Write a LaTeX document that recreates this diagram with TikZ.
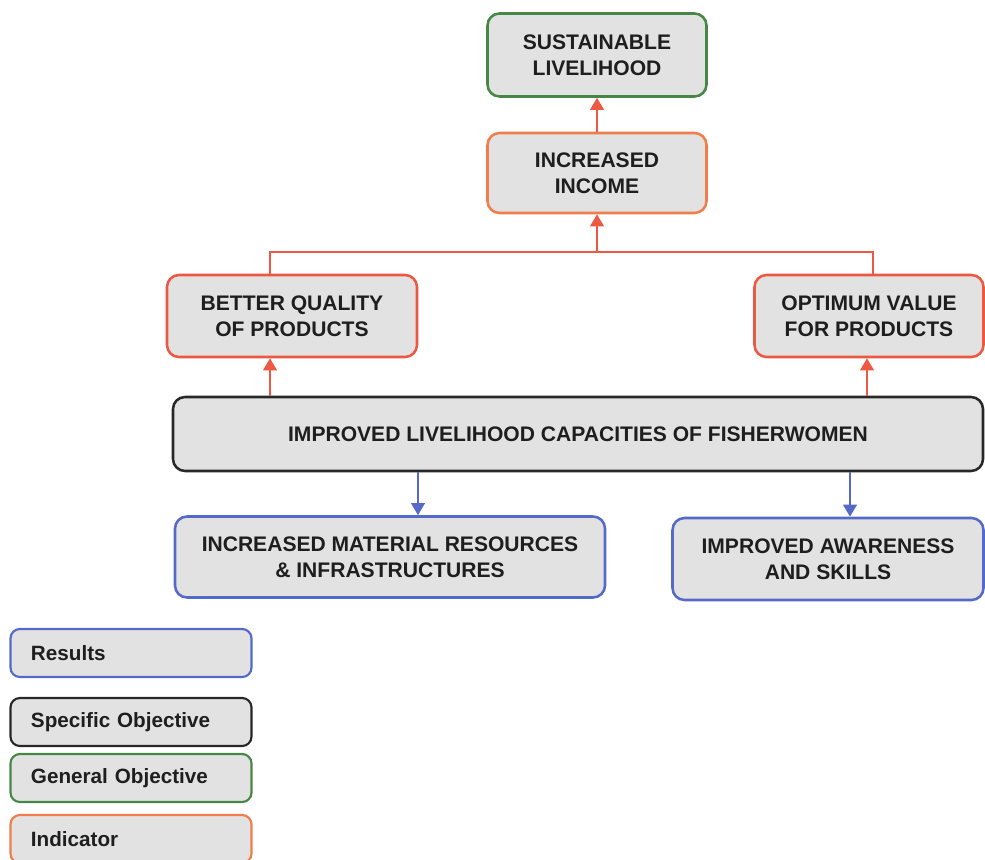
\documentclass[tikz,border=0pt]{standalone}
\usepackage{fontspec}
\setmainfont{Liberation Sans}
\usetikzlibrary{arrows.meta}
\definecolor{boxfill}{RGB}{226,226,226}
\definecolor{cgreen}{RGB}{70,135,70}
\definecolor{corange}{RGB}{240,125,75}
\definecolor{cred}{RGB}{236,88,66}
\definecolor{cblue}{RGB}{85,105,200}
\definecolor{cblack}{RGB}{40,40,40}
\definecolor{ctext}{RGB}{30,30,30}
\tikzset{
  box/.style={draw, fill=boxfill, rounded corners=9pt, line width=1.9pt, align=center,
    text=ctext, font=\fontsize{15.8}{19.5}\selectfont\bfseries, inner sep=0pt},
  legbox/.style={draw, fill=boxfill, rounded corners=7pt, line width=1.6pt,
    text=ctext, font=\fontsize{15.5}{18}\selectfont\bfseries, inner sep=0pt,
    minimum width=241*0.75pt, minimum height=48*0.75pt, text width=200*0.75pt, align=left},
  redarr/.style={draw=cred, line width=2pt, -{Triangle[length=9pt,width=10pt]}},
  redline/.style={draw=cred, line width=1.8pt},
  bluearr/.style={draw=cblue, line width=2pt, -{Triangle[length=9pt,width=10pt]}},
}
\begin{document}
\begin{tikzpicture}[x=0.75pt,y=-0.75pt]
\useasboundingbox (0,0) rectangle (985,860);
\node[box, draw=cgreen, minimum width=219*0.75pt, minimum height=83*0.75pt] (sl) at (597,55) {SUSTAINABLE\\LIVELIHOOD};
\node[box, draw=corange, minimum width=219*0.75pt, minimum height=80*0.75pt] (ii) at (597,173) {INCREASED\\INCOME};
\node[box, draw=cred, minimum width=250*0.75pt, minimum height=82*0.75pt] (bq) at (292,316) {BETTER QUALITY\\OF PRODUCTS};
\node[box, draw=cred, minimum width=229*0.75pt, minimum height=82*0.75pt] (ov) at (869,316) {OPTIMUM VALUE\\FOR PRODUCTS};
\node[box, draw=cblack, minimum width=810*0.75pt, minimum height=74*0.75pt] (il) at (578,434) {IMPROVED LIVELIHOOD CAPACITIES OF FISHERWOMEN};
\node[box, draw=cblue, minimum width=430*0.75pt, minimum height=81*0.75pt] (im) at (390,557) {INCREASED MATERIAL RESOURCES\\\& INFRASTRUCTURES};
\node[box, draw=cblue, minimum width=311*0.75pt, minimum height=82*0.75pt] (ia) at (828,559) {IMPROVED AWARENESS\\AND SKILLS};

\node[legbox, draw=cblue] (lr) at (131,653) {Results};
\node[legbox, draw=cblack] (ls) at (131,722) {Specific Objective};
\node[legbox, draw=cgreen] (lg) at (131,778) {General Objective};
\node[legbox, draw=corange] (lind) at (131,839) {Indicator};

\draw[redarr] (ii.north) -- (sl.south);
\coordinate (jn) at (597,252);
\draw[redarr] (jn) -- (ii.south);
\draw[redline] (bq.north -| 270,0) |- (jn) -| (ov.north -| 873,0);
\draw[redarr] (il.north -| 270,0) -- (bq.south -| 270,0);
\draw[redarr] (il.north -| 867,0) -- (ov.south -| 867,0);
\draw[bluearr] (il.south -| 418,0) -- (im.north -| 418,0);
\draw[bluearr] (il.south -| 850,0) -- (ia.north -| 850,0);
\end{tikzpicture}
\end{document}
